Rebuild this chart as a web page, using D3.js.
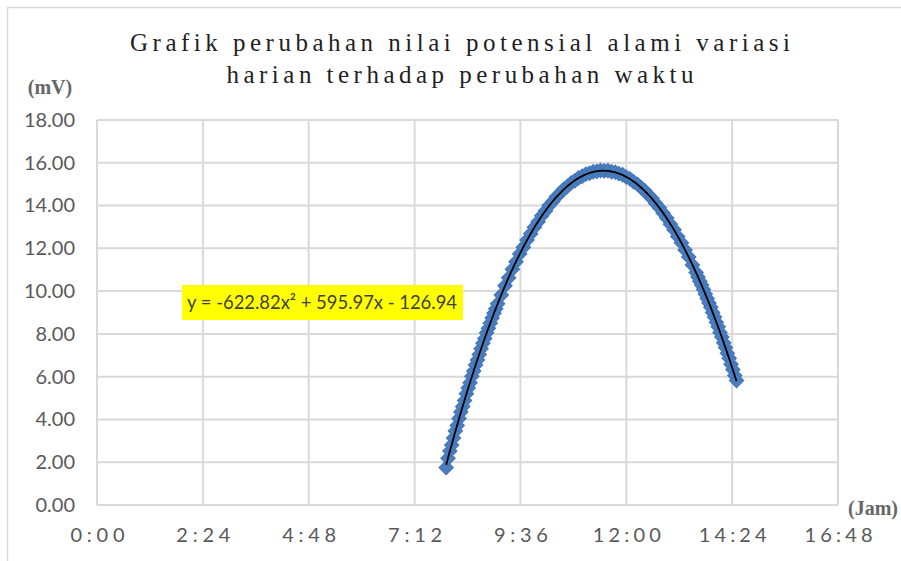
<!DOCTYPE html>
<html>
<head>
<meta charset="utf-8">
<script src="https://cdn.jsdelivr.net/npm/d3@7/dist/d3.min.js"></script>
<style>
  html, body { margin: 0; padding: 0; background: #ffffff; }
  svg { display: block; }
</style>
</head>
<body>
<svg id="chart" width="901" height="561"></svg>
<script>
// Chart title (two lines)
const titleLines = [
  "Grafik perubahan nilai potensial alami variasi",
  "harian terhadap perubahan waktu"
];

// Observation times (H:MM or H:MM:SS)
const times = [
  "7:55", "7:57:30", "8:00", "8:02:30", "8:05", "8:07:30", "8:10", "8:12:30",
  "8:15", "8:17:30", "8:20", "8:22:30", "8:25", "8:27:30", "8:30", "8:32:30",
  "8:35", "8:37:30", "8:40", "8:42:30", "8:45", "8:47:30", "8:50", "8:52:30",
  "8:55", "8:57:30", "9:00", "9:02:30", "9:05", "9:10", "9:15", "9:20",
  "9:25", "9:30", "9:35", "9:40", "9:45", "9:50", "9:55", "10:00",
  "10:05", "10:10", "10:15", "10:20", "10:25", "10:30", "10:35", "10:40",
  "10:45", "10:50", "10:55", "11:00", "11:05", "11:10", "11:15", "11:20",
  "11:25", "11:30", "11:35", "11:40", "11:45", "11:50", "11:55", "12:00",
  "12:05", "12:10", "12:15", "12:20", "12:25", "12:30", "12:35", "12:40",
  "12:45", "12:50", "12:55", "13:00", "13:05", "13:10", "13:15", "13:20",
  "13:25", "13:30", "13:35", "13:37:30", "13:40", "13:42:30", "13:45", "13:47:30",
  "13:50", "13:52:30", "13:55", "13:57:30", "14:00", "14:02:30", "14:05", "14:07:30",
  "14:10", "14:12:30", "14:15", "14:17:30", "14:20", "14:22:30", "14:25", "14:27:30",
  "14:30"
];

// Natural potential (mV) at each time
const potentials = [
  1.75, 2.18, 2.52, 2.80, 3.13, 3.46, 3.72, 4.05,
  4.35, 4.60, 4.88, 5.20, 5.47, 5.72, 6.02, 6.26,
  6.55, 6.78, 7.04, 7.31, 7.56, 7.78, 8.05, 8.26,
  8.50, 8.74, 8.97, 9.17, 9.41, 9.82, 10.25, 10.62,
  11.02, 11.37, 11.74, 12.05, 12.39, 12.68, 12.99, 13.24,
  13.52, 13.75, 14.00, 14.19, 14.41, 14.58, 14.77, 14.90,
  15.06, 15.16, 15.29, 15.37, 15.47, 15.51, 15.58, 15.60,
  15.64, 15.62, 15.63, 15.58, 15.56, 15.49, 15.44, 15.33,
  15.25, 15.11, 15.00, 14.84, 14.70, 14.50, 14.33, 14.10,
  13.90, 13.65, 13.42, 13.13, 12.87, 12.55, 12.26, 11.92,
  11.60, 11.22, 10.87, 10.66, 10.46, 10.28, 10.08, 9.86,
  9.65, 9.45, 9.24, 9.00, 8.79, 8.54, 8.33, 8.07,
  7.85, 7.58, 7.36, 7.09, 6.86, 6.58, 6.33, 6.05,
  5.82
];

// Polynomial trendline coefficients (x in fraction of a day): a*x^2 + b*x + c
const trendCoef = [-622.82, 595.97, -126.94];
const equationLabel = "y = -622.82x² + 595.97x - 126.94";

// Axis ticks
const xTickValues = [0, 0.1, 0.2, 0.3, 0.4, 0.5, 0.6, 0.7];
const xTickLabels = ["0:00", "2:24", "4:48", "7:12", "9:36", "12:00", "14:24", "16:48"];
const yTickValues = [0, 2, 4, 6, 8, 10, 12, 14, 16, 18];

const yUnitLabel = "(mV)";
const xUnitLabel = "(Jam)";

// ---------------------------------------------------------------
const svg = d3.select("#chart");
const plot = { left: 97, right: 838, top: 120, bottom: 505 };
const gridColor = "#d9d9d9";
const labelColor = "#595959";

const toDay = s => {
  const [h, m, sec = 0] = s.split(":").map(Number);
  return (h + m / 60 + sec / 3600) / 24;
};
const data = times.map((t, i) => ({ x: toDay(t), y: potentials[i] }));

const x = d3.scaleLinear().domain([0, 0.7]).range([plot.left, plot.right]);
const y = d3.scaleLinear().domain([0, 18]).range([plot.bottom, plot.top]);

// Outer chart frame
svg.append("rect")
  .attr("x", 7.5).attr("y", 7.5)
  .attr("width", 1000).attr("height", 1000)
  .attr("fill", "#ffffff")
  .attr("stroke", gridColor).attr("stroke-width", 1.5);

// Title
svg.append("g").selectAll("text")
  .data(titleLines)
  .join("text")
  .attr("x", 460)
  .attr("y", (d, i) => 51 + i * 32)
  .attr("text-anchor", "middle")
  .attr("font-family", "'Liberation Serif', 'Times New Roman', serif")
  .attr("font-size", 25)
  .attr("fill", "#1f1f1f")
  .attr("textLength", (d, i) => i === 0 ? 660 : 467)
  .attr("lengthAdjust", "spacing")
  .text(d => d);

// Gridlines
const grid = svg.append("g");
grid.selectAll("line.h")
  .data(yTickValues)
  .join("line")
  .attr("class", "h")
  .attr("x1", plot.left).attr("x2", plot.right)
  .attr("y1", d => y(d)).attr("y2", d => y(d))
  .attr("stroke", gridColor).attr("stroke-width", 2);
grid.selectAll("line.v")
  .data(xTickValues)
  .join("line")
  .attr("class", "v")
  .attr("x1", d => x(d)).attr("x2", d => x(d))
  .attr("y1", plot.top).attr("y2", plot.bottom)
  .attr("stroke", gridColor).attr("stroke-width", 2);

// Y axis labels
const yAxis = d3.axisLeft(y).tickValues(yTickValues).tickFormat(d3.format(".2f")).tickSize(0).tickPadding(0);
const gy = svg.append("g").attr("transform", "translate(75,0)").call(yAxis);
gy.select(".domain").remove();
gy.selectAll("text")
  .attr("font-family", "Lato, 'Open Sans', sans-serif")
  .attr("font-size", 20)
  .attr("fill", labelColor);

// X axis labels
const xAxis = d3.axisBottom(x).tickValues(xTickValues)
  .tickFormat((d, i) => xTickLabels[i]).tickSize(0).tickPadding(0);
const gx = svg.append("g").attr("transform", "translate(0,535)").call(xAxis);
gx.select(".domain").remove();
gx.selectAll("text")
  .attr("dy", "0.35em")
  .attr("font-family", "Lato, 'Open Sans', sans-serif")
  .attr("font-size", 20)
  .attr("fill", labelColor)
  .attr("textLength", function () { return this.textContent.length * 14 - 2; })
  .attr("lengthAdjust", "spacing");

// Unit labels
svg.append("text")
  .attr("x", 50).attr("y", 94)
  .attr("text-anchor", "middle")
  .attr("font-family", "'Liberation Serif', 'Times New Roman', serif")
  .attr("font-weight", "bold")
  .attr("font-size", 20)
  .attr("fill", "#666666")
  .text(yUnitLabel);
svg.append("text")
  .attr("x", 848).attr("y", 515)
  .attr("font-family", "'Liberation Serif', 'Times New Roman', serif")
  .attr("font-weight", "bold")
  .attr("font-size", 20)
  .attr("fill", "#666666")
  .text(xUnitLabel);

// Data markers (diamonds)
const diamond = d3.symbol().type(d3.symbolSquare).size(100);
svg.append("g").selectAll("path")
  .data(data)
  .join("path")
  .attr("d", diamond)
  .attr("transform", d => `translate(${x(d.x)},${y(d.y)}) rotate(45)`)
  .attr("fill", "#4a7ebf")
  .attr("stroke", "#4476b8")
  .attr("stroke-width", 1.2);

// Polynomial trendline over the data range
const [a, b, c] = trendCoef;
const x0 = d3.min(data, d => d.x), x1 = d3.max(data, d => d.x);
const trend = d3.range(0, 201).map(i => {
  const t = x0 + (x1 - x0) * i / 200;
  return { x: t, y: a * t * t + b * t + c };
});
svg.append("path")
  .datum(trend)
  .attr("d", d3.line().x(d => x(d.x)).y(d => y(d.y)))
  .attr("fill", "none")
  .attr("stroke", "#000000")
  .attr("stroke-width", 1.8);

// Trendline equation
const eq = svg.append("g");
eq.append("rect")
  .attr("x", 182).attr("y", 285)
  .attr("width", 281).attr("height", 35)
  .attr("fill", "#ffff00");
eq.append("text")
  .attr("x", 187).attr("y", 302)
  .attr("dy", "0.35em")
  .attr("font-family", "Lato, 'Open Sans', sans-serif")
  .attr("font-size", 19)
  .attr("fill", "#404040")
  .attr("textLength", 270)
  .attr("lengthAdjust", "spacingAndGlyphs")
  .text(equationLabel);
</script>
</body>
</html>
